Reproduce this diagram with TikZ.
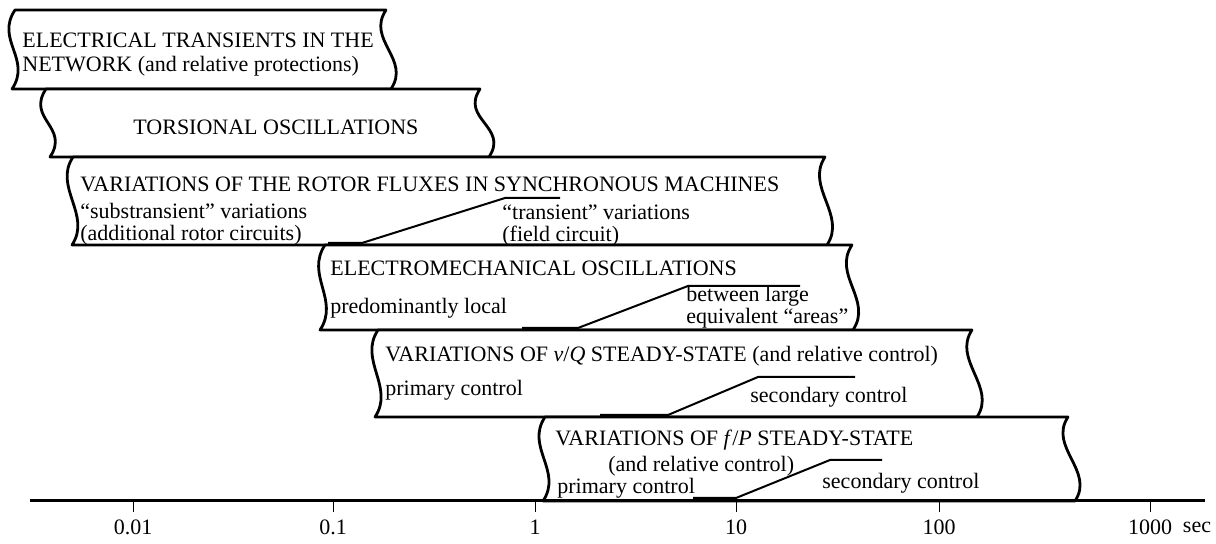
\documentclass[tikz,border=0pt]{standalone}
\usepackage{fontspec}
\setmainfont{Liberation Serif}
\usepackage{tikz}
\usetikzlibrary{calc}

% one band: left-top x, right-top x, top y, bottom y, right-bottom x, left-bottom x
\newcommand{\bandbox}[6]{%
    \draw[band] (#6,#4) .. controls +(20,-30) and +(-20,30) .. (#1,#3)
        -- (#2,#3) .. controls +(-20,30) and +(20,-30) .. (#5,#4) -- cycle;}

\begin{document}
\begin{tikzpicture}[x=0.5pt, y=-0.5pt,
    band/.style={line width=1.4pt, line join=round, fill=white},
    link/.style={line width=1pt},
    axis/.style={line width=1.5pt},
    tick/.style={line width=0.5pt},
    lbl/.style={anchor=west, inner sep=0pt, font=\fontsize{11}{13}\selectfont}]
    \useasboundingbox (0,0) rectangle (1216,544);

    % Bands
    \bandbox{15}{386}{10}{89}{391}{12}
    \bandbox{46}{480}{89}{157}{489}{50}
    \bandbox{73}{825}{157}{245}{827}{72}
    \bandbox{325}{852}{245}{330}{853}{320}
    \bandbox{378}{972}{330}{417}{977}{375}
    \bandbox{545}{1068}{417}{501}{1075}{543}

    % Electrical transients
    \node[lbl] (elec1) at (22,40) {ELECTRICAL TRANSIENTS IN THE};
    \node[lbl] (elec2) at (22,66) {NETWORK (and relative protections)};

    % Torsional
    \node[lbl] (tors) at (133,127) {TORSIONAL OSCILLATIONS};

    % Rotor fluxes
    \node[lbl] (flux) at (80,184) {VARIATIONS OF THE ROTOR FLUXES IN SYNCHRONOUS MACHINES};
    \node[lbl] (subtr1) at (80,211) {“substransient” variations};
    \node[lbl] (subtr2) at (80,235) {(additional rotor circuits)};
    \node[lbl] (trans1) at (502,212) {“transient” variations};
    \node[lbl] (trans2) at (502,236) {(field circuit)};
    \coordinate (fluxLo) at (328,243);
    \coordinate (fluxHi) at (505,198);
    \draw[link] (fluxLo) -- ++(34,0) -- (fluxHi) -- ++(55,0);

    % Electromechanical
    \node[lbl] (emech) at (330,268) {ELECTROMECHANICAL OSCILLATIONS};
    \node[lbl] (local) at (330,308) {predominantly local};
    \node[lbl] (areas1) at (686,296) {between large};
    \node[lbl] (areas2) at (686,318) {equivalent “areas”};
    \coordinate (emechLo) at (522,328);
    \coordinate (emechHi) at (688,286);
    \draw[link] (emechLo) -- ++(56,0) -- (emechHi) -- ++(112,0);

    % v/Q
    \node[lbl] (vq) at (385,356) {VARIATIONS OF \textit{v}/\textit{Q} STEADY-STATE (and relative control)};
    \node[lbl] (vqPrim) at (385,390) {primary control};
    \node[lbl] (vqSec) at (750,397) {secondary control};
    \coordinate (vqLo) at (600,415);
    \coordinate (vqHi) at (758,377);
    \draw[link] (vqLo) -- ++(68,0) -- (vqHi) -- ++(97,0);

    % f/P
    \node[lbl] (fp) at (555,440) {VARIATIONS OF \textit{f}/\textit{P} STEADY-STATE};
    \node[lbl] (fpRel) at (608,466) {(and relative control)};
    \node[lbl] (fpPrim) at (557,488) {primary control};
    \node[lbl] (fpSec) at (822,483) {secondary control};
    \coordinate (fpLo) at (693,498);
    \coordinate (fpHi) at (830,460);
    \draw[link] (fpLo) -- ++(43,0) -- (fpHi) -- ++(52,0);

    % Time axis
    \coordinate (axL) at (30,501);
    \coordinate (axR) at (1205,501);
    \draw[axis] (axL) -- (axR);
    \foreach \x/\lab [count=\i] in {133/0.01, 333/0.1, 535/1, 736/10, 939/100, 1150/1000} {
        \draw[tick] (\x,501) -- (\x,512);
        \node[font=\fontsize{11}{13}\selectfont] (tick\i) at (\x,527) {\lab};
    }
    \node[font=\fontsize{11}{13}\selectfont] (sec) at (1197,527) {sec};
\end{tikzpicture}
\end{document}
